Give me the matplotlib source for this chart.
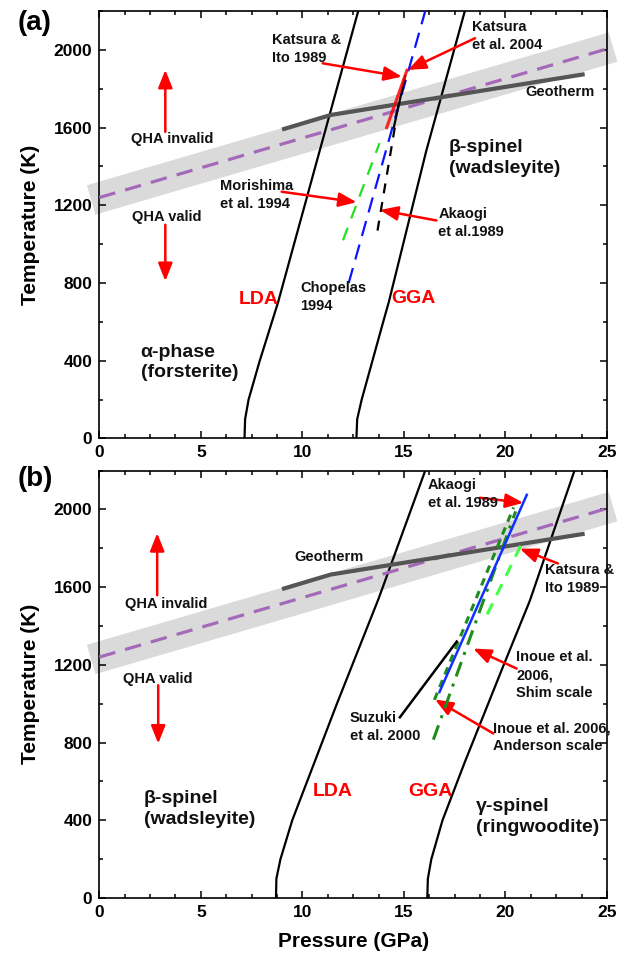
import numpy as np
import matplotlib
matplotlib.use('Agg')
import matplotlib.pyplot as plt
from matplotlib.ticker import MultipleLocator

plt.rcParams['font.family'] = ['Liberation Sans', 'DejaVu Sans']
plt.rcParams['font.weight'] = 'bold'

# ---- data (pressure in GPa, temperature in K) ----
# phase boundaries, panel (a): alpha -> beta
lda_a_P = [7.15, 7.18, 7.35, 7.9, 8.5, 8.8, 10.85, 12.75]
lda_a_T = [0, 100, 200, 400, 600, 700, 1480, 2200]
gga_a_P = [12.66, 12.7, 12.92, 13.45, 13.98, 14.25, 16.1, 18.0]
gga_a_T = [0, 100, 200, 400, 600, 700, 1480, 2200]

# phase boundaries, panel (b): beta -> gamma
lda_b_P = [8.7, 8.72, 8.92, 9.5, 10.6, 11.7, 13.75, 16.05]
lda_b_T = [0, 100, 200, 400, 700, 1000, 1540, 2200]
gga_b_P = [16.15, 16.18, 16.35, 16.9, 18.0, 19.8, 21.2, 23.4]
gga_b_T = [0, 100, 200, 400, 700, 1170, 1530, 2200]

geo_P = [9.0, 11.4, 23.9]
geo_T = [1590, 1665, 1875]

qha_P = [0, 25]
qha_T = [1240, 2005]

# experiments, panel (a)
chopelas_P, chopelas_T = [12.28, 16.05], [800, 2200]
morishima_P, morishima_T = [12.0, 13.8], [1020, 1520]
akaogi_a_P, akaogi_a_T = [13.7, 14.55], [1070, 1600]
katito_a_P, katito_a_T = [14.5, 15.06], [1600, 1865]
kat04_P, kat04_T = [14.15, 15.15], [1600, 1895]

# experiments, panel (b)
akaogi_b_P, akaogi_b_T = [16.75, 21.05], [1060, 2075]
anderson_P, anderson_T = [16.5, 20.4], [1020, 2010]
shim_P, shim_T = [16.45, 20.5], [815, 1990]
katito_b_P, katito_b_T = [19.1, 20.9], [1460, 1845]
suzuki_P, suzuki_T = [14.8, 17.6], [930, 1320]

fig = plt.figure(figsize=(6.33, 9.58), dpi=100)
ax_a = fig.add_axes([0.1569, 0.5423, 0.802, 0.4462])
ax_b = fig.add_axes([0.1569, 0.0626, 0.802, 0.4462])

RED = '#ff0000'
arrow_kw = dict(arrowstyle='-|>,head_length=0.6,head_width=0.24', color=RED,
                lw=1.8, mutation_scale=18, shrinkA=0, shrinkB=0)


def red_arrow(ax, tail, head):
    ax.annotate('', xy=head, xytext=tail, arrowprops=arrow_kw)


def common(ax, lda, gga):
    # QHA validity band + its centre line
    slope = (qha_T[1] - qha_T[0]) / (qha_P[1] - qha_P[0])
    bx = np.array([qha_P[0] - 0.4, qha_P[1] + 0.3])
    by = qha_T[0] + slope * (bx - qha_P[0])
    ax.plot(bx, by, color='#dadada', lw=22, solid_capstyle='butt',
            clip_on=False, zorder=1)
    ln, = ax.plot(qha_P, qha_T, color='#a469b8', lw=2.3, zorder=3)
    ln.set_dashes((5.2, 3.2))
    # geotherm
    ax.plot(geo_P, geo_T, color='#555555', lw=3, zorder=4,
            solid_capstyle='butt')
    # phase boundaries
    ax.plot(lda[0], lda[1], color='black', lw=1.6, zorder=2)
    ax.plot(gga[0], gga[1], color='black', lw=1.6, zorder=2)

    ax.set_xlim(0, 25)
    ax.set_ylim(0, 2200)
    ax.xaxis.set_major_locator(MultipleLocator(5))
    ax.xaxis.set_minor_locator(MultipleLocator(1.25))
    ax.yaxis.set_major_locator(MultipleLocator(400))
    ax.yaxis.set_minor_locator(MultipleLocator(200))
    ax.tick_params(which='both', direction='in', top=True, right=True,
                   width=1.1, labelsize=12.5)
    ax.tick_params(which='major', length=5)
    ax.tick_params(which='minor', length=3)
    ax.tick_params(axis='x', pad=5)
    ax.tick_params(axis='y', pad=5)
    for s in ax.spines.values():
        s.set_linewidth(1.2)
    ax.set_ylabel('Temperature (K)', fontsize=15, fontweight='bold', labelpad=10)


txt = dict(fontsize=10.5, fontweight='bold', color='#111111', linespacing=1.35,
           zorder=6)
big = dict(fontsize=14, fontweight='bold', color='#111111', linespacing=1.3)
red_lbl = dict(fontsize=14, fontweight='bold', color=RED, ha='center', va='center')

# ================= panel (a) =================
ax = ax_a
common(ax, (lda_a_P, lda_a_T), (gga_a_P, gga_a_T))
l, = ax.plot(chopelas_P, chopelas_T, color='#0a14ff', lw=1.6, zorder=5)
l.set_dashes((7, 4))
l, = ax.plot(morishima_P, morishima_T, color='#22e022', lw=1.6, zorder=5)
l.set_dashes((6, 4.5))
l, = ax.plot(akaogi_a_P, akaogi_a_T, color='black', lw=1.6, zorder=5)
l.set_dashes((4.5, 4))
ax.plot(katito_a_P, katito_a_T, color='black', lw=1.6, zorder=5)
ax.plot(kat04_P, kat04_T, color=RED, lw=2.2, zorder=5, alpha=0.85)

ax.text(8.5, 2006, 'Katsura &\nIto 1989', ha='left', va='center', **txt)
red_arrow(ax, (11.0, 1931), (14.9, 1862))
ax.text(18.37, 2072, 'Katsura\net al. 2004', ha='left', va='center', **txt)
red_arrow(ax, (18.5, 2060), (15.2, 1897))
ax.text(22.67, 1785, 'Geotherm', ha='center', va='center', **txt)
ax.text(17.2, 1445, 'β-spinel\n(wadsleyite)', ha='left', va='center', **big)
ax.text(3.6, 1541, 'QHA invalid', ha='center', va='center', **txt)
ax.text(3.3, 1140, 'QHA valid', ha='center', va='center', **txt)
red_arrow(ax, (3.25, 1578), (3.25, 1897))
red_arrow(ax, (3.25, 1100), (3.25, 810))
ax.text(5.95, 1252, 'Morishima\net al. 1994', ha='left', va='center', **txt)
red_arrow(ax, (8.98, 1270), (12.67, 1216))
ax.text(16.7, 1108, 'Akaogi\net al.1989', ha='left', va='center', **txt)
red_arrow(ax, (16.6, 1122), (13.82, 1176))
ax.text(9.9, 730, 'Chopelas\n1994', ha='left', va='center', **txt)
ax.text(7.83, 713, 'LDA', **red_lbl)
ax.text(15.47, 718, 'GGA', **red_lbl)
ax.text(2.04, 391, 'α-phase\n(forsterite)', ha='left', va='center', **big)

# ================= panel (b) =================
ax = ax_b
common(ax, (lda_b_P, lda_b_T), (gga_b_P, gga_b_T))
l, = ax.plot(katito_b_P, katito_b_T, color='#44ff44', lw=2.2, zorder=4.5)
l.set_dashes((4, 3))
l, = ax.plot(anderson_P, anderson_T, color='#1f8c1f', lw=2.2, zorder=5)
l.set_dashes((2.5, 2))
l, = ax.plot(shim_P, shim_T, color='#1f8c1f', lw=2.2, zorder=5)
l.set_dashes((5, 2.5, 1, 2.5))
ax.plot(akaogi_b_P, akaogi_b_T, color='#1030ff', lw=1.8, zorder=5)
ax.plot(suzuki_P, suzuki_T, color='black', lw=1.8, zorder=5)

ax.text(16.18, 2080, 'Akaogi\net al. 1989', ha='left', va='center', **txt)
red_arrow(ax, (18.74, 2060), (20.88, 2034))
ax.text(11.3, 1755, 'Geotherm', ha='center', va='center', **txt)
ax.text(21.95, 1640, 'Katsura &\nIto 1989', ha='left', va='center', **txt)
red_arrow(ax, (22.58, 1722), (20.71, 1798))
ax.text(20.52, 1147, 'Inoue et al.\n2006,\nShim scale', ha='left', va='center', **txt)
red_arrow(ax, (20.55, 1181), (18.41, 1284))
ax.text(19.38, 828, 'Inoue et al. 2006,\nAnderson scale', ha='left', va='center', **txt)
red_arrow(ax, (19.4, 847), (16.53, 1022))
ax.text(12.34, 879, 'Suzuki\net al. 2000', ha='left', va='center', **txt)
ax.text(11.5, 547, 'LDA', **red_lbl)
ax.text(16.3, 547, 'GGA', **red_lbl)
ax.text(2.2, 456, 'β-spinel\n(wadsleyite)', ha='left', va='center', **big)
ax.text(18.55, 418, 'γ-spinel\n(ringwoodite)', ha='left', va='center', **big)
ax.text(3.3, 1515, 'QHA invalid', ha='center', va='center', **txt)
ax.text(2.9, 1126, 'QHA valid', ha='center', va='center', **txt)
red_arrow(ax, (2.85, 1558), (2.85, 1878))
red_arrow(ax, (2.9, 1095), (2.9, 795))
ax.set_xlabel('Pressure (GPa)', fontsize=15, fontweight='bold', labelpad=9)

fig.text(0.028, 1 - 23 / 958, '(a)', fontsize=20, fontweight='bold', va='center')
fig.text(0.028, 1 - 479 / 958, '(b)', fontsize=20, fontweight='bold', va='center')

fig.savefig('out.png', dpi=100)
